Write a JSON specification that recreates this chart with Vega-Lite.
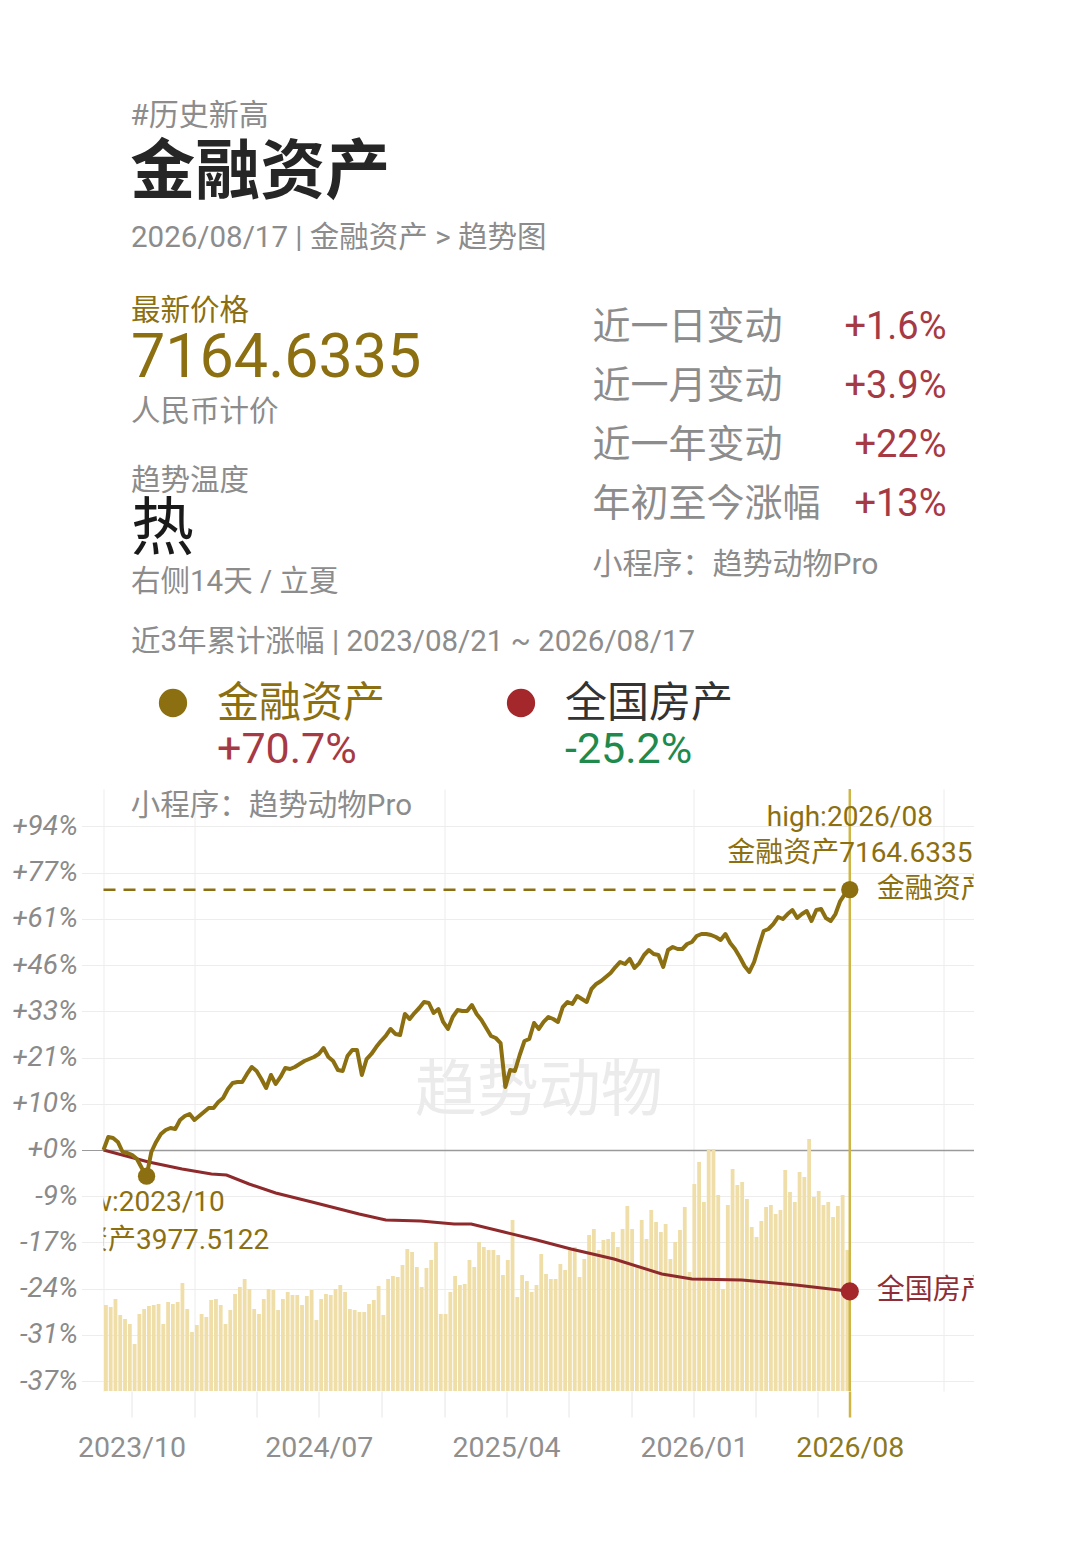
{
  "$schema": "https://vega.github.io/schema/vega-lite/v6.json",
  "background": "white",
  "padding": {"left": 11.5, "top": 100, "right": 5, "bottom": 5},
  "config": {
    "font": "Roboto, Noto Sans CJK SC",
    "view": {"stroke": null},
    "title": {"anchor": "start", "fontWeight": "normal", "color": "#8c8c8c", "baseline": "top"}
  },
  "title": {
    "text": "#历史新高",
    "subtitle": "金融资产",
    "fontSize": 30,
    "color": "#8c8c8c",
    "subtitleFontSize": 65,
    "subtitleFontWeight": "bold",
    "subtitleColor": "#262626",
    "subtitlePadding": 11,
    "dx": 118.5,
    "offset": 17
  },
  "datasets": {
    "weekly": [
      {"d": "2023/08/21", "r": 1, "v": 86}, {"d": "2023/08/28", "r": 1.0271, "v": 84}, {"d": "2023/09/04", "r": 1.025, "v": 92},
      {"d": "2023/09/11", "r": 1.0166, "v": 76}, {"d": "2023/09/18", "r": 0.9959, "v": 72}, {"d": "2023/09/25", "r": 0.9939, "v": 67},
      {"d": "2023/10/02", "r": 0.9898, "v": 47}, {"d": "2023/10/09", "r": 0.9817, "v": 77}, {"d": "2023/10/16", "r": 0.9637, "v": 82},
      {"d": "2023/10/23", "r": 0.9477, "v": 85}, {"d": "2023/10/30", "r": 0.9959, "v": 86}, {"d": "2023/11/06", "r": 1.0166, "v": 87},
      {"d": "2023/11/13", "r": 1.0334, "v": 67}, {"d": "2023/11/20", "r": 1.0419, "v": 89}, {"d": "2023/11/27", "r": 1.0462, "v": 87},
      {"d": "2023/12/04", "r": 1.0441, "v": 89}, {"d": "2023/12/11", "r": 1.0636, "v": 108}, {"d": "2023/12/18", "r": 1.0723, "v": 82},
      {"d": "2023/12/25", "r": 1.0768, "v": 59}, {"d": "2024/01/01", "r": 1.0636, "v": 66}, {"d": "2024/01/08", "r": 1.0723, "v": 77},
      {"d": "2024/01/15", "r": 1.0812, "v": 74}, {"d": "2024/01/22", "r": 1.0901, "v": 91}, {"d": "2024/01/29", "r": 1.0901, "v": 92},
      {"d": "2024/02/05", "r": 1.1036, "v": 86}, {"d": "2024/02/12", "r": 1.1127, "v": 67}, {"d": "2024/02/19", "r": 1.1335, "v": 81},
      {"d": "2024/02/26", "r": 1.1476, "v": 97}, {"d": "2024/03/04", "r": 1.1499, "v": 104}, {"d": "2024/03/11", "r": 1.1499, "v": 112},
      {"d": "2024/03/18", "r": 1.169, "v": 102}, {"d": "2024/03/25", "r": 1.1859, "v": 82}, {"d": "2024/04/01", "r": 1.1762, "v": 77},
      {"d": "2024/04/08", "r": 1.157, "v": 92}, {"d": "2024/04/15", "r": 1.1358, "v": 102}, {"d": "2024/04/22", "r": 1.1666, "v": 101},
      {"d": "2024/04/29", "r": 1.1452, "v": 81}, {"d": "2024/05/06", "r": 1.1618, "v": 92}, {"d": "2024/05/13", "r": 1.1835, "v": 99},
      {"d": "2024/05/20", "r": 1.181, "v": 96}, {"d": "2024/05/27", "r": 1.1859, "v": 96}, {"d": "2024/06/03", "r": 1.1932, "v": 86},
      {"d": "2024/06/10", "r": 1.2006, "v": 95}, {"d": "2024/06/17", "r": 1.2055, "v": 101}, {"d": "2024/06/24", "r": 1.2105, "v": 71},
      {"d": "2024/07/01", "r": 1.218, "v": 92}, {"d": "2024/07/08", "r": 1.2331, "v": 97}, {"d": "2024/07/15", "r": 1.2105, "v": 96},
      {"d": "2024/07/22", "r": 1.2006, "v": 102}, {"d": "2024/07/29", "r": 1.1786, "v": 106}, {"d": "2024/08/05", "r": 1.1762, "v": 99},
      {"d": "2024/08/12", "r": 1.213, "v": 82}, {"d": "2024/08/19", "r": 1.228, "v": 81}, {"d": "2024/08/26", "r": 1.228, "v": 79},
      {"d": "2024/09/02", "r": 1.1666, "v": 79}, {"d": "2024/09/09", "r": 1.2055, "v": 87}, {"d": "2024/09/16", "r": 1.218, "v": 91},
      {"d": "2024/09/23", "r": 1.2356, "v": 105}, {"d": "2024/09/30", "r": 1.2509, "v": 76}, {"d": "2024/10/07", "r": 1.2639, "v": 112},
      {"d": "2024/10/14", "r": 1.2822, "v": 115}, {"d": "2024/10/21", "r": 1.2691, "v": 114}, {"d": "2024/10/28", "r": 1.2665, "v": 126},
      {"d": "2024/11/04", "r": 1.3223, "v": 142}, {"d": "2024/11/11", "r": 1.3088, "v": 139}, {"d": "2024/11/18", "r": 1.325, "v": 124},
      {"d": "2024/11/25", "r": 1.3387, "v": 104}, {"d": "2024/12/02", "r": 1.3553, "v": 123}, {"d": "2024/12/09", "r": 1.3525, "v": 131},
      {"d": "2024/12/16", "r": 1.325, "v": 149}, {"d": "2024/12/23", "r": 1.3359, "v": 77}, {"d": "2024/12/30", "r": 1.3008, "v": 77},
      {"d": "2025/01/06", "r": 1.2822, "v": 99}, {"d": "2025/01/13", "r": 1.3142, "v": 115}, {"d": "2025/01/20", "r": 1.3332, "v": 106},
      {"d": "2025/01/27", "r": 1.3305, "v": 107}, {"d": "2025/02/03", "r": 1.3305, "v": 131}, {"d": "2025/02/10", "r": 1.347, "v": 124},
      {"d": "2025/02/17", "r": 1.3223, "v": 149}, {"d": "2025/02/24", "r": 1.3061, "v": 144}, {"d": "2025/03/03", "r": 1.2848, "v": 141},
      {"d": "2025/03/10", "r": 1.2639, "v": 141}, {"d": "2025/03/17", "r": 1.2587, "v": 136}, {"d": "2025/03/24", "r": 1.2458, "v": 116},
      {"d": "2025/03/31", "r": 1.1382, "v": 131}, {"d": "2025/04/07", "r": 1.1786, "v": 171}, {"d": "2025/04/14", "r": 1.1762, "v": 94},
      {"d": "2025/04/21", "r": 1.2155, "v": 116}, {"d": "2025/04/28", "r": 1.2509, "v": 110}, {"d": "2025/05/05", "r": 1.2561, "v": 99},
      {"d": "2025/05/12", "r": 1.2981, "v": 106}, {"d": "2025/05/19", "r": 1.2822, "v": 137}, {"d": "2025/05/26", "r": 1.3008, "v": 117},
      {"d": "2025/06/02", "r": 1.3142, "v": 112}, {"d": "2025/06/09", "r": 1.3088, "v": 112}, {"d": "2025/06/16", "r": 1.3008, "v": 127},
      {"d": "2025/06/23", "r": 1.3414, "v": 121}, {"d": "2025/06/30", "r": 1.3553, "v": 144}, {"d": "2025/07/07", "r": 1.3498, "v": 144},
      {"d": "2025/07/14", "r": 1.3721, "v": 114}, {"d": "2025/07/21", "r": 1.3637, "v": 132}, {"d": "2025/07/28", "r": 1.3553, "v": 156},
      {"d": "2025/08/04", "r": 1.392, "v": 162}, {"d": "2025/08/11", "r": 1.4064, "v": 141}, {"d": "2025/08/18", "r": 1.415, "v": 151},
      {"d": "2025/08/25", "r": 1.4267, "v": 152}, {"d": "2025/09/01", "r": 1.4385, "v": 159}, {"d": "2025/09/08", "r": 1.4563, "v": 144},
      {"d": "2025/09/15", "r": 1.4714, "v": 162}, {"d": "2025/09/22", "r": 1.4653, "v": 185}, {"d": "2025/09/29", "r": 1.4805, "v": 162},
      {"d": "2025/10/06", "r": 1.4534, "v": 126}, {"d": "2025/10/13", "r": 1.4683, "v": 171}, {"d": "2025/10/20", "r": 1.4927, "v": 152},
      {"d": "2025/10/27", "r": 1.5081, "v": 181}, {"d": "2025/11/03", "r": 1.4957, "v": 169}, {"d": "2025/11/10", "r": 1.4927, "v": 159},
      {"d": "2025/11/17", "r": 1.4563, "v": 167}, {"d": "2025/11/24", "r": 1.5081, "v": 132}, {"d": "2025/12/01", "r": 1.5174, "v": 149},
      {"d": "2025/12/08", "r": 1.5112, "v": 161}, {"d": "2025/12/15", "r": 1.5112, "v": 184}, {"d": "2025/12/22", "r": 1.5268, "v": 119},
      {"d": "2025/12/29", "r": 1.5331, "v": 207}, {"d": "2026/01/05", "r": 1.5521, "v": 229}, {"d": "2026/01/12", "r": 1.5585, "v": 189},
      {"d": "2026/01/19", "r": 1.5585, "v": 242}, {"d": "2026/01/26", "r": 1.5553, "v": 242}, {"d": "2026/02/02", "r": 1.5489, "v": 196},
      {"d": "2026/02/09", "r": 1.5394, "v": 102}, {"d": "2026/02/16", "r": 1.5585, "v": 186}, {"d": "2026/02/23", "r": 1.5299, "v": 222},
      {"d": "2026/03/02", "r": 1.5112, "v": 206}, {"d": "2026/03/09", "r": 1.4866, "v": 209}, {"d": "2026/03/16", "r": 1.4593, "v": 192},
      {"d": "2026/03/23", "r": 1.4415, "v": 164}, {"d": "2026/03/30", "r": 1.4714, "v": 154}, {"d": "2026/04/06", "r": 1.5206, "v": 170},
      {"d": "2026/04/13", "r": 1.5681, "v": 184}, {"d": "2026/04/20", "r": 1.5746, "v": 186}, {"d": "2026/04/27", "r": 1.5908, "v": 177},
      {"d": "2026/05/04", "r": 1.6138, "v": 181}, {"d": "2026/05/11", "r": 1.6072, "v": 221}, {"d": "2026/05/18", "r": 1.6238, "v": 199},
      {"d": "2026/05/25", "r": 1.6372, "v": 189}, {"d": "2026/06/01", "r": 1.6105, "v": 219}, {"d": "2026/06/08", "r": 1.6238, "v": 214},
      {"d": "2026/06/15", "r": 1.6339, "v": 252}, {"d": "2026/06/22", "r": 1.6006, "v": 194}, {"d": "2026/06/29", "r": 1.6372, "v": 200},
      {"d": "2026/07/06", "r": 1.6406, "v": 186}, {"d": "2026/07/13", "r": 1.6105, "v": 189}, {"d": "2026/07/20", "r": 1.6006, "v": 174},
      {"d": "2026/07/27", "r": 1.6238, "v": 185}, {"d": "2026/08/03", "r": 1.6678, "v": 196}, {"d": "2026/08/10", "r": 1.692, "v": 141},
      {"d": "2026/08/17", "r": 1.707}
    ],
    "house": [
      {"d": "2023/08/21", "r": 1}, {"d": "2023/10/26", "r": 0.9757}, {"d": "2023/12/14", "r": 0.9617},
      {"d": "2024/01/26", "r": 0.9519}, {"d": "2024/02/17", "r": 0.9499}, {"d": "2024/03/21", "r": 0.9325},
      {"d": "2024/04/29", "r": 0.9155}, {"d": "2024/06/21", "r": 0.8987}, {"d": "2024/08/29", "r": 0.8768},
      {"d": "2024/10/07", "r": 0.8661}, {"d": "2024/11/27", "r": 0.8643}, {"d": "2025/01/15", "r": 0.859},
      {"d": "2025/02/09", "r": 0.859}, {"d": "2025/03/29", "r": 0.845}, {"d": "2025/05/16", "r": 0.8312},
      {"d": "2025/07/05", "r": 0.816}, {"d": "2025/09/06", "r": 0.7994}, {"d": "2025/11/15", "r": 0.7751},
      {"d": "2025/12/29", "r": 0.7672}, {"d": "2026/03/12", "r": 0.7657}, {"d": "2026/05/30", "r": 0.7578},
      {"d": "2026/08/17", "r": 0.748}
    ],
    "extremes": [
      {"kind": "high", "start": "2023/08/21", "d": "2026/08/17", "r": 1.707, "tag": "high:2026/08", "txt": "金融资产7164.6335"},
      {"kind": "low", "start": "2023/08/21", "d": "2023/10/23", "r": 0.9477, "tag": "low:2023/10", "txt": "金融资产3977.5122"}
    ],
    "ends": [
      {"d": "2026/08/17", "r": 1.707, "name": "金融资产"},
      {"d": "2026/08/17", "r": 0.748, "name": "全国房产"}
    ],
    "notes": [
      {"d": "2023/09/30", "r": 2.028, "note": "小程序：趋势动物Pro", "kind": "pro"},
      {"d": "2025/05/19", "r": 1.1265, "note": "趋势动物", "kind": "mark"}
    ]
  },
  "spacing": 29,
  "vconcat": [
    {
      "title": {"text": "2026/08/17 | 金融资产 > 趋势图", "fontSize": 29.5, "dx": 27.5, "offset": 43},
      "spacing": 30,
      "hconcat": [
        {
          "width": 458.5,
          "height": 170,
          "data": {"values": [
            {"blk": "价格", "col": "说明", "lab": "最新价格", "val": "7164.6335", "note": "人民币计价"},
            {"blk": "温度", "col": "说明", "lab": "趋势温度", "val": "热", "note": "右侧14天 / 立夏"}
          ]},
          "encoding": {
            "x": {"field": "col", "type": "nominal", "scale": {"type": "point", "padding": 0, "align": 0}, "axis": null},
            "y": {"field": "blk", "type": "nominal", "sort": ["价格", "温度"], "scale": {"type": "point", "padding": 0}, "axis": null}
          },
          "layer": [
            {
              "mark": {"type": "text", "align": "left", "baseline": "top", "dx": 27.5, "fontSize": 29.5},
              "encoding": {
                "text": {"field": "lab"},
                "color": {"condition": {"test": "datum.blk === '价格'", "value": "#8c6f10"}, "value": "#8c8c8c"}
              }
            },
            {
              "mark": {"type": "text", "align": "left", "baseline": "top", "dx": 27.5, "dy": 32},
              "encoding": {
                "text": {"field": "val"},
                "size": {"condition": {"test": "datum.blk === '价格'", "value": 61}, "value": 63},
                "color": {"condition": {"test": "datum.blk === '价格'", "value": "#8c6f10"}, "value": "#1a1a1a"}
              }
            },
            {
              "mark": {"type": "text", "align": "left", "baseline": "top", "dx": 27.5, "dy": 101, "fontSize": 29.5, "color": "#8c8c8c"},
              "encoding": {"text": {"field": "note"}}
            }
          ]
        },
        {
          "width": 354,
          "height": 237,
          "title": {"text": "小程序：趋势动物Pro", "orient": "bottom", "fontSize": 30, "offset": 16},
          "data": {"values": [
            {"item": "近一日变动", "chg": "+1.6%", "l": "项目", "rr": "幅度"},
            {"item": "近一月变动", "chg": "+3.9%", "l": "项目", "rr": "幅度"},
            {"item": "近一年变动", "chg": "+22%", "l": "项目", "rr": "幅度"},
            {"item": "年初至今涨幅", "chg": "+13%", "l": "项目", "rr": "幅度"}
          ]},
          "encoding": {
            "y": {"field": "item", "type": "nominal", "sort": null, "scale": {"paddingInner": 0, "paddingOuter": 0}, "axis": null}
          },
          "layer": [
            {
              "mark": {"type": "text", "align": "left", "baseline": "middle", "fontSize": 38, "color": "#8c8c8c", "dy": 1},
              "encoding": {
                "x": {"field": "l", "type": "nominal", "scale": {"type": "point", "domain": ["项目", "幅度"], "padding": 0}, "axis": null},
                "text": {"field": "item"}
              }
            },
            {
              "mark": {"type": "text", "align": "right", "baseline": "middle", "fontSize": 38, "color": "#a63a44", "dy": 1},
              "encoding": {
                "x": {"field": "rr", "type": "nominal"},
                "text": {"field": "chg"}
              }
            }
          ]
        }
      ]
    },
    {
      "spacing": 11,
      "vconcat": [
        {
          "width": 348,
          "height": 92,
          "title": {"text": "近3年累计涨幅 | 2023/08/21 ~ 2026/08/17", "fontSize": 29.5, "dx": 27.5, "offset": 26},
          "data": {"values": [
            {"name": "金融资产", "chg": "+70.7%"},
            {"name": "全国房产", "chg": "-25.2%"}
          ]},
          "encoding": {
            "x": {"field": "name", "type": "nominal", "sort": null, "scale": {"type": "point", "padding": 0}, "axis": null}
          },
          "layer": [
            {
              "mark": {"type": "point", "filled": true, "size": 800, "opacity": 1, "xOffset": 69.5, "yOffset": -27},
              "encoding": {
                "color": {"field": "name", "type": "nominal", "scale": {"domain": ["金融资产", "全国房产"], "range": ["#8c6f10", "#a3272b"]}, "legend": null}
              }
            },
            {
              "mark": {"type": "text", "align": "left", "baseline": "top", "fontSize": 42, "dx": 113.5, "dy": -46},
              "encoding": {
                "text": {"field": "name"},
                "color": {"condition": {"test": "datum.name === '金融资产'", "value": "#8c6f10"}, "value": "#333333"}
              }
            },
            {
              "mark": {"type": "text", "align": "left", "baseline": "top", "fontSize": 43, "dx": 113.5, "dy": -1},
              "encoding": {
                "text": {"field": "chg"},
                "color": {"condition": {"test": "datum.chg[0] === '+'", "value": "#a63a44"}, "value": "#1f8a4c"}
              }
            }
          ]
        },
        {
          "width": 870,
          "height": 602,
          "resolve": {"scale": {"y": "independent"}},
          "layer": [
            {
              "data": {"name": "weekly"},
              "mark": {"type": "bar", "width": 3.8, "xOffset": 2.4, "color": "#efdea8"},
              "encoding": {
                "x": {
                  "field": "d",
                  "type": "temporal",
                  "scale": {"domain": [{"year": 2023, "month": 8, "date": 21}, {"year": 2027, "month": 2, "date": 14}], "nice": false, "padding": 0},
                  "axis": {
                    "title": null,
                    "values": [
                      {"year": 2023, "month": 10, "date": 1}, {"year": 2024, "month": 1, "date": 1}, {"year": 2024, "month": 4, "date": 1},
                      {"year": 2024, "month": 7, "date": 1}, {"year": 2024, "month": 10, "date": 1}, {"year": 2025, "month": 1, "date": 1},
                      {"year": 2025, "month": 4, "date": 1}, {"year": 2025, "month": 7, "date": 1}, {"year": 2025, "month": 10, "date": 1},
                      {"year": 2026, "month": 1, "date": 1}, {"year": 2026, "month": 4, "date": 1}, {"year": 2026, "month": 7, "date": 1},
                      {"year": 2026, "month": 8, "date": 17}, {"year": 2027, "month": 1, "date": 1}
                    ],
                    "format": "%Y/%m",
                    "labelExpr": "indexof(['2023/10', '2024/07', '2025/04', '2026/01', '2026/08'], datum.label) >= 0 ? datum.label : ''",
                    "labelColor": {"condition": {"test": "month(datum.value) === 7", "value": "#8c7a22"}, "value": "#8f8f8f"},
                    "labelFontSize": 28.5,
                    "labelPadding": 16,
                    "labelFlush": false,
                    "labelOverlap": false,
                    "domain": false,
                    "tickSize": 26,
                    "tickColor": {"condition": {"test": "month(datum.value) === 7", "value": "#cfb446"}, "value": "#e6e6e6"},
                    "tickWidth": {"condition": {"test": "month(datum.value) === 7", "value": 2.5}, "value": 1},
                    "tickOpacity": {"condition": {"test": "year(datum.value) === 2027", "value": 0}, "value": 1},
                    "grid": true,
                    "gridColor": "#ececec",
                    "gridOpacity": {"condition": {"test": "month(datum.value) === 0", "value": 1}, "value": 0}
                  }
                },
                "y": {"field": "v", "type": "quantitative", "scale": {"domain": [0, 602], "nice": false}, "axis": null}
              }
            },
            {
              "layer": [
                {
                  "data": {"name": "notes"},
                  "transform": [{"filter": "datum.kind === 'mark'"}],
                  "mark": {"type": "text", "align": "center", "baseline": "middle", "fontSize": 62, "color": "#ebebeb"},
                  "encoding": {
                    "x": {"field": "d", "type": "temporal"},
                    "y": {
                      "field": "r",
                      "type": "quantitative",
                      "scale": {"type": "log", "domain": [0.6095, 2.0993], "nice": false},
                      "axis": {
                        "orient": "left",
                        "title": null,
                        "values": [0.62189, 0.68386, 0.75201, 0.82696, 0.90937, 1, 1.09966, 1.20925, 1.32977, 1.46228, 1.60801, 1.76827, 1.94449],
                        "labelExpr": "datum.value >= 1 ? '+' + round((datum.value - 1) * 100) + '%' : ceil((datum.value - 1) * 100) + '%'",
                        "labelFontSize": 28,
                        "labelFontStyle": "italic",
                        "labelColor": "#8a8a8a",
                        "labelPadding": 4,
                        "labelFlush": false,
                        "labelOverlap": false,
                        "tickSize": 22,
                        "tickColor": {"condition": {"test": "datum.value === 1", "value": "#9a9a9a"}, "value": "#ededed"},
                        "grid": true,
                        "gridColor": {"condition": {"test": "datum.value === 1", "value": "#9a9a9a"}, "value": "#ededed"},
                        "gridWidth": {"condition": {"test": "datum.value === 1", "value": 1.5}, "value": 1},
                        "domain": true,
                        "domainColor": "#ededed"
                      }
                    },
                    "text": {"field": "note"}
                  }
                },
                {
                  "data": {"name": "notes"},
                  "transform": [{"filter": "datum.kind === 'pro'"}],
                  "mark": {"type": "text", "align": "left", "baseline": "middle", "fontSize": 29.5, "color": "#8c8c8c"},
                  "encoding": {
                    "x": {"field": "d", "type": "temporal"},
                    "y": {"field": "r", "type": "quantitative"},
                    "text": {"field": "note"}
                  }
                },
                {
                  "data": {"name": "ends"},
                  "transform": [{"filter": "datum.name === '金融资产'"}],
                  "mark": {"type": "rule", "color": "#cfb446", "strokeWidth": 2.5},
                  "encoding": {"x": {"field": "d", "type": "temporal"}}
                },
                {
                  "data": {"name": "extremes"},
                  "transform": [{"filter": "datum.kind === 'high'"}],
                  "mark": {"type": "rule", "color": "#8c6f10", "strokeWidth": 2.5, "strokeDash": [12, 8]},
                  "encoding": {
                    "x": {"field": "start", "type": "temporal"},
                    "x2": {"field": "d"},
                    "y": {"field": "r", "type": "quantitative"}
                  }
                },
                {
                  "data": {"name": "house"},
                  "mark": {"type": "line", "color": "#8e2a2c", "strokeWidth": 3},
                  "encoding": {
                    "x": {"field": "d", "type": "temporal"},
                    "y": {"field": "r", "type": "quantitative"}
                  }
                },
                {
                  "data": {"name": "weekly"},
                  "mark": {"type": "line", "color": "#8c6f10", "strokeWidth": 4, "strokeJoin": "round"},
                  "encoding": {
                    "x": {"field": "d", "type": "temporal"},
                    "y": {"field": "r", "type": "quantitative"}
                  }
                },
                {
                  "data": {"name": "extremes"},
                  "mark": {"type": "point", "filled": true, "opacity": 1, "size": 300, "color": "#8c6f10"},
                  "encoding": {
                    "x": {"field": "d", "type": "temporal"},
                    "y": {"field": "r", "type": "quantitative"}
                  }
                },
                {
                  "data": {"name": "ends"},
                  "transform": [{"filter": "datum.name === '全国房产'"}],
                  "mark": {"type": "point", "filled": true, "opacity": 1, "size": 330, "color": "#a3272b"},
                  "encoding": {
                    "x": {"field": "d", "type": "temporal"},
                    "y": {"field": "r", "type": "quantitative"}
                  }
                },
                {
                  "data": {"name": "extremes"},
                  "transform": [{"filter": "datum.kind === 'high'"}],
                  "mark": {"type": "text", "align": "center", "baseline": "middle", "fontSize": 28, "color": "#8c6f10", "dy": -72, "clip": true},
                  "encoding": {
                    "x": {"field": "d", "type": "temporal"},
                    "y": {"field": "r", "type": "quantitative"},
                    "text": {"field": "tag"}
                  }
                },
                {
                  "data": {"name": "extremes"},
                  "transform": [{"filter": "datum.kind === 'high'"}],
                  "mark": {"type": "text", "align": "center", "baseline": "middle", "fontSize": 28, "color": "#8c6f10", "dy": -36, "clip": true},
                  "encoding": {
                    "x": {"field": "d", "type": "temporal"},
                    "y": {"field": "r", "type": "quantitative"},
                    "text": {"field": "txt"}
                  }
                },
                {
                  "data": {"name": "extremes"},
                  "transform": [{"filter": "datum.kind === 'low'"}],
                  "mark": {"type": "text", "align": "center", "baseline": "middle", "fontSize": 28, "color": "#8c6f10", "dy": 27, "clip": true},
                  "encoding": {
                    "x": {"field": "d", "type": "temporal"},
                    "y": {"field": "r", "type": "quantitative"},
                    "text": {"field": "tag"}
                  }
                },
                {
                  "data": {"name": "extremes"},
                  "transform": [{"filter": "datum.kind === 'low'"}],
                  "mark": {"type": "text", "align": "center", "baseline": "middle", "fontSize": 28, "color": "#8c6f10", "dy": 65, "clip": true},
                  "encoding": {
                    "x": {"field": "d", "type": "temporal"},
                    "y": {"field": "r", "type": "quantitative"},
                    "text": {"field": "txt"}
                  }
                },
                {
                  "data": {"name": "ends"},
                  "mark": {"type": "text", "align": "left", "baseline": "middle", "fontSize": 28, "dx": 27, "clip": true},
                  "encoding": {
                    "x": {"field": "d", "type": "temporal"},
                    "y": {"field": "r", "type": "quantitative"},
                    "text": {"field": "name"},
                    "color": {"condition": {"test": "datum.name === '金融资产'", "value": "#8c6f10"}, "value": "#8f2d36"}
                  }
                }
              ]
            }
          ]
        }
      ]
    }
  ]
}
